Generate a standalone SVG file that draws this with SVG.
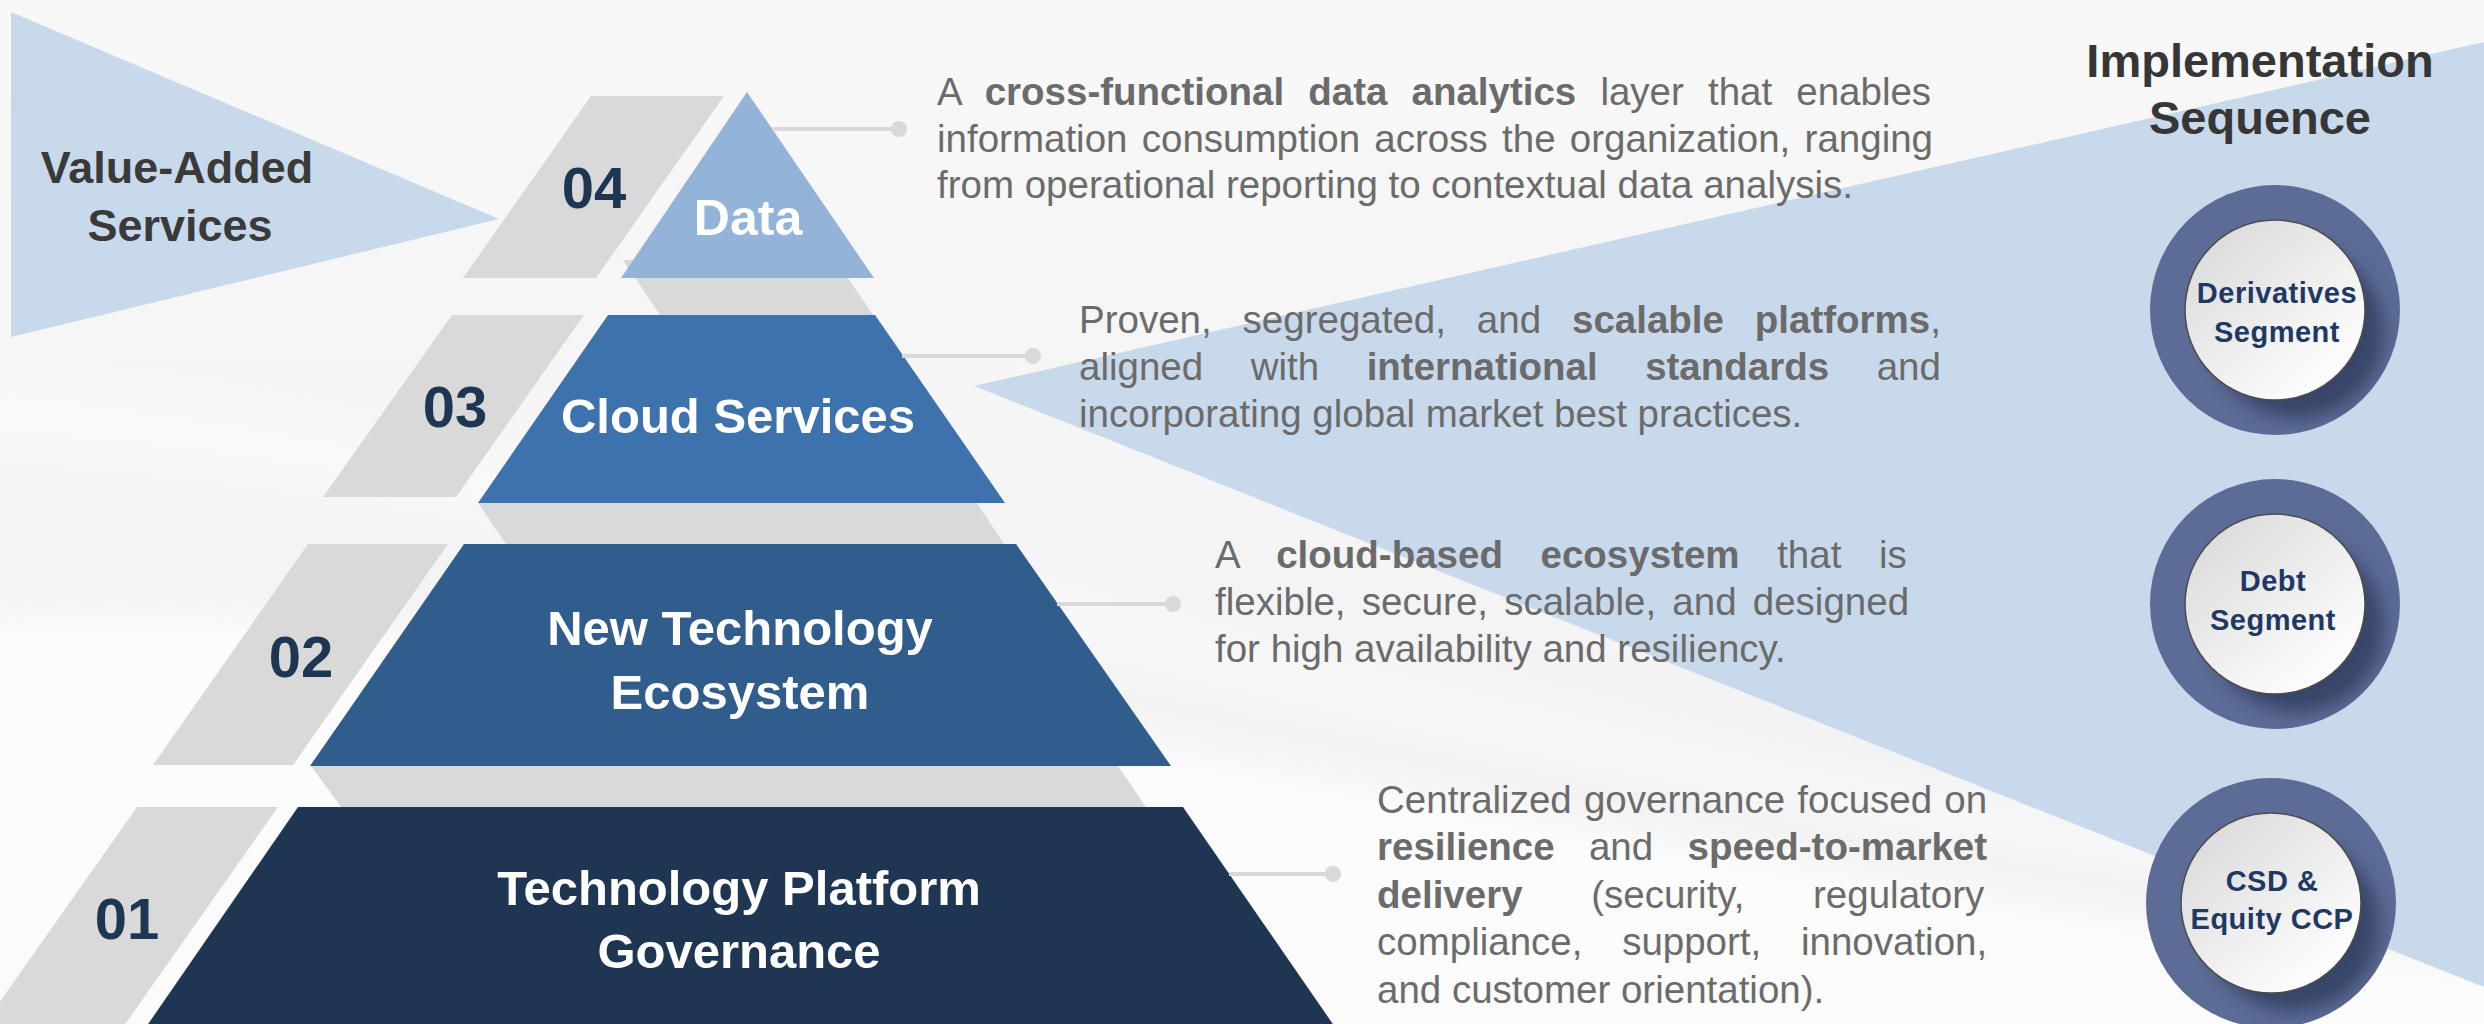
<svg xmlns="http://www.w3.org/2000/svg" width="2484" height="1024" viewBox="0 0 2484 1024">
<defs>
<style>
.desc{font-family:"Liberation Sans",Arial,sans-serif;font-size:38.5px;fill:#6b6b6b}
.b{font-weight:bold}
.lbl{font-family:"Liberation Sans",Arial,sans-serif;font-weight:bold;font-size:49px;fill:#ffffff;text-anchor:middle}
.num{font-family:"Liberation Sans",Arial,sans-serif;font-weight:bold;font-size:58px;fill:#1f3652;text-anchor:middle}
.grey{fill:#d9d9d9}
.lightblue{fill:#c8d9eb}
.conn line{stroke:#d9d9d9;stroke-width:4}
.conn circle{fill:#d9d9d9}
.ctext{font-family:"Liberation Sans",Arial,sans-serif;font-weight:bold;font-size:29px;fill:#1f3864;text-anchor:middle;letter-spacing:0.5px}
.title{font-family:"Liberation Sans",Arial,sans-serif;font-weight:bold;font-size:47px;fill:#363636;text-anchor:middle}
.side{font-family:"Liberation Sans",Arial,sans-serif;font-weight:bold;font-size:45px;fill:#3a3a3a;text-anchor:middle}
.ring{fill:#5d6c96}
.disc{fill:url(#discGrad);stroke:#4d4d4d;stroke-width:1.5}
.shadow{fill:#2c3858;opacity:0.75}
</style>
<linearGradient id="bgGrad" x1="0" y1="0" x2="0" y2="1">
<stop offset="0" stop-color="#f8f8f8"/>
<stop offset="1" stop-color="#f1f1f1"/>
</linearGradient>
<linearGradient id="discGrad" x1="0.15" y1="0.1" x2="0.85" y2="0.9">
<stop offset="0" stop-color="#dcdcdc"/>
<stop offset="1" stop-color="#ffffff"/>
</linearGradient>
<filter id="soft" x="-20%" y="-20%" width="140%" height="140%"><feGaussianBlur stdDeviation="18"/></filter>
<filter id="sh" x="-30%" y="-30%" width="160%" height="160%"><feGaussianBlur stdDeviation="9"/></filter>
<clipPath id="c1"><circle cx="2275" cy="310" r="125"/></clipPath>
<clipPath id="c2"><circle cx="2275" cy="604" r="125"/></clipPath>
<clipPath id="c3"><circle cx="2271" cy="903" r="125"/></clipPath>
</defs>

<g id="background">
<rect x="0" y="0" width="2484" height="1024" fill="url(#bgGrad)"/>
<path d="M-40,620 C300,600 700,650 1100,730 C1500,810 2000,900 2530,970 L2530,1060 L-40,1060 Z" fill="#ffffff" opacity="0.75" filter="url(#soft)"/>
<path d="M-40,380 C400,420 800,520 1250,640 C1600,730 2000,820 2530,880 L2530,920 C2000,860 1600,770 1250,690 C800,580 400,470 -40,440 Z" fill="#ffffff" opacity="0.45" filter="url(#soft)"/>
</g>

<g id="decor">
<polygon class="lightblue" points="11,12 11,337 499,219"/>
<polygon class="lightblue" points="974,386 2484,42 2484,987"/>
</g>

<g id="bands">
<polygon class="grey" points="623,260 836,260 873,315 660,315"/>
<polygon class="grey" points="478,503 977,503 1004,544 506,544"/>
<polygon class="grey" points="311,766 1118,766 1146,807 341,807"/>
</g>

<g id="node-04">
<polygon class="grey" points="591,96 724,96 596,278 463,278"/>
<text class="num" x="594" y="208">04</text>
</g>
<g id="node-data">
<polygon points="747,92 874,278 621,278" fill="#93b3d9"/>
<text class="lbl" x="748" y="235" style="font-size:50px">Data</text>
</g>

<g id="node-03">
<polygon class="grey" points="452,315 584,315 456,497 323,497"/>
<text class="num" x="455" y="427">03</text>
</g>
<g id="node-cloud">
<polygon points="608,315 875,315 1005,503 478,503" fill="#3e72ad"/>
<text class="lbl" x="738" y="433">Cloud Services</text>
</g>

<g id="node-02">
<polygon class="grey" points="308,544 448,544 293,765 153,765"/>
<text class="num" x="301" y="677">02</text>
</g>
<g id="node-newtech">
<polygon points="464,544 1016,544 1171,766 310,766" fill="#305d8c"/>
<text class="lbl" x="740" y="645">New Technology</text>
<text class="lbl" x="740" y="709">Ecosystem</text>
</g>

<g id="node-01">
<polygon class="grey" points="137,807 278,807 121,1030 -20,1030"/>
<text class="num" x="127" y="939">01</text>
</g>
<g id="node-governance">
<polygon points="298,807 1183,807 1337,1030 144,1030" fill="#1f3652"/>
<text class="lbl" x="739" y="905">Technology Platform</text>
<text class="lbl" x="739" y="968">Governance</text>
</g>

<g id="connectors" class="conn">
<line x1="772" y1="129" x2="899" y2="129"/>
<circle cx="899" cy="129" r="8"/>
<line x1="902" y1="356" x2="1033" y2="356"/>
<circle cx="1033" cy="356" r="8"/>
<line x1="1057" y1="604" x2="1173" y2="604"/>
<circle cx="1173" cy="604" r="8"/>
<line x1="1229" y1="874" x2="1333" y2="874"/>
<circle cx="1333" cy="874" r="8"/>
</g>

<g id="node-value-added">
<text class="side" x="177" y="183">Value-Added</text>
<text class="side" x="180" y="241">Services</text>
</g>

<g id="desc-data" class="desc">
<text x="937" y="105" word-spacing="13.4">A <tspan class="b">cross-functional data analytics</tspan> layer that enables</text>
<text x="937" y="152" word-spacing="3.6">information consumption across the organization, ranging</text>
<text x="937" y="198">from operational reporting to contextual data analysis.</text>
</g>

<g id="desc-cloud" class="desc">
<text x="1079" y="333" word-spacing="20.2">Proven, segregated, and <tspan class="b">scalable platforms</tspan>,</text>
<text x="1079" y="380" word-spacing="36.8">aligned with <tspan class="b">international standards</tspan> and</text>
<text x="1079" y="427">incorporating global market best practices.</text>
</g>

<g id="desc-newtech" class="desc">
<text x="1215" y="568" word-spacing="26.9">A <tspan class="b">cloud-based ecosystem</tspan> that is</text>
<text x="1215" y="615" word-spacing="5.5">flexible, secure, scalable, and designed</text>
<text x="1215" y="662">for high availability and resiliency.</text>
</g>

<g id="desc-governance" class="desc">
<text x="1377" y="813" word-spacing="1.5">Centralized governance focused on</text>
<text x="1377" y="860" word-spacing="23.6"><tspan class="b">resilience</tspan> and <tspan class="b">speed-to-market</tspan></text>
<text x="1377" y="908" word-spacing="57.9"><tspan class="b">delivery</tspan> (security, regulatory</text>
<text x="1377" y="955" word-spacing="29">compliance, support, innovation,</text>
<text x="1377" y="1003">and customer orientation).</text>
</g>

<g id="node-title">
<text class="title" x="2260" y="77">Implementation</text>
<text class="title" x="2260" y="134">Sequence</text>
</g>

<g id="node-derivatives">
<circle class="ring" cx="2275" cy="310" r="125"/>
<circle class="shadow" cx="2297" cy="332" r="86" filter="url(#sh)" clip-path="url(#c1)"/>
<circle class="disc" cx="2275" cy="310" r="90"/>
<text class="ctext" x="2277" y="303">Derivatives</text>
<text class="ctext" x="2277" y="342">Segment</text>
</g>

<g id="node-debt">
<circle class="ring" cx="2275" cy="604" r="125"/>
<circle class="shadow" cx="2297" cy="626" r="86" filter="url(#sh)" clip-path="url(#c2)"/>
<circle class="disc" cx="2275" cy="604" r="90"/>
<text class="ctext" x="2273" y="591">Debt</text>
<text class="ctext" x="2273" y="630">Segment</text>
</g>

<g id="node-csd">
<circle class="ring" cx="2271" cy="903" r="125"/>
<circle class="shadow" cx="2293" cy="925" r="86" filter="url(#sh)" clip-path="url(#c3)"/>
<circle class="disc" cx="2271" cy="903" r="90"/>
<text class="ctext" x="2272" y="891">CSD &amp;</text>
<text class="ctext" x="2272" y="929">Equity CCP</text>
</g>
</svg>
